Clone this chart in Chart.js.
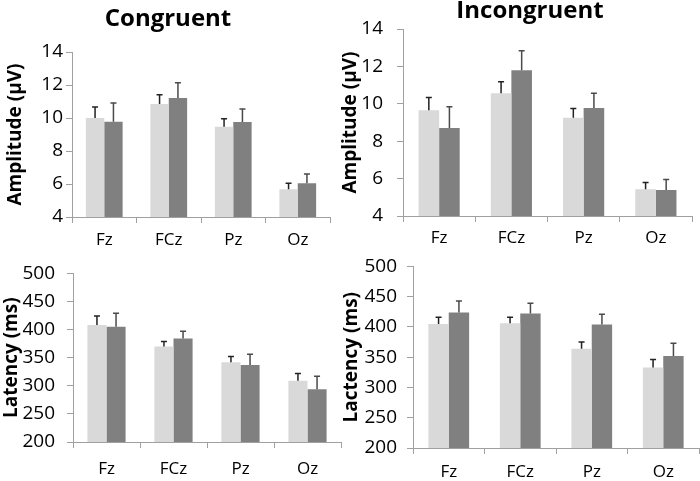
<!DOCTYPE html>
<html>
<head>
<meta charset="utf-8">
<script src="https://cdn.jsdelivr.net/npm/chart.js@4.4.1/dist/chart.umd.min.js"></script>
<style>
  body { margin: 0; background: #fff; }
  #wrap { position: relative; width: 700px; height: 481px; overflow: hidden; }
  canvas { position: absolute; }
  .title { position: absolute; font: bold 24px "Open Sans"; color: #000; transform: translateX(-50%); white-space: nowrap; }
</style>
</head>
<body>
<div id="wrap">
  <canvas id="c1" width="345" height="255" style="left:0;top:0"></canvas>
  <canvas id="c2" width="362" height="255" style="left:338px;top:0"></canvas>
  <canvas id="c3" width="345" height="231" style="left:0;top:250px"></canvas>
  <canvas id="c4" width="362" height="236" style="left:338px;top:245px"></canvas>
  <div class="title" style="left:168px;top:0px">Congruent</div>
  <div class="title" style="left:530px;top:-8px">Incongruent</div>
</div>
<script>
const categories = ["Fz", "FCz", "Pz", "Oz"];

// amplitude (µV), congruent
const congAmpLight = [10.0, 10.85, 9.47, 5.68];
const congAmpLightErr = [0.67, 0.56, 0.49, 0.36];
const congAmpDark = [9.78, 11.21, 9.76, 6.04];
const congAmpDarkErr = [1.13, 0.93, 0.79, 0.57];

// amplitude (µV), incongruent
const incAmpLight = [9.66, 10.57, 9.25, 5.43];
const incAmpLightErr = [0.68, 0.61, 0.5, 0.36];
const incAmpDark = [8.71, 11.79, 9.77, 5.39];
const incAmpDarkErr = [1.13, 1.05, 0.8, 0.56];

// latency (ms), congruent
const congLatLight = [408, 370, 342, 309];
const congLatLightErr = [16, 9, 10, 13];
const congLatDark = [405, 384, 337, 294];
const congLatDarkErr = [24, 13, 19, 23];

// latency (ms), incongruent
const incLatLight = [405, 406, 364, 333];
const incLatLightErr = [11, 10, 11, 13];
const incLatDark = [424, 422, 404, 352];
const incLatDarkErr = [19, 17, 17, 21];

const LIGHT = "#d9d9d9";
const DARK = "#808080";
const AXIS = "#a0a0a0";

// draws the upper half of each error bar
const errorBars = {
  id: "errorBars",
  afterDatasetsDraw(chart) {
    const ctx = chart.ctx;
    const y = chart.scales.y;
    chart.data.datasets.forEach((ds, i) => {
      const meta = chart.getDatasetMeta(i);
      ctx.save();
      ctx.strokeStyle = ds.errColor;
      ctx.lineWidth = 1.5;
      meta.data.forEach((bar, j) => {
        const top = y.getPixelForValue(ds.data[j] + ds.err[j]);
        ctx.beginPath();
        ctx.moveTo(bar.x, bar.y);
        ctx.lineTo(bar.x, top);
        ctx.moveTo(bar.x - 3, top);
        ctx.lineTo(bar.x + 3, top);
        ctx.stroke();
      });
      ctx.restore();
    });
  },
};

function panel(id, light, lightErr, dark, darkErr, yMin, yMax, step, yTitle, g) {
  new Chart(document.getElementById(id), {
    type: "bar",
    data: {
      labels: categories,
      datasets: [
        { data: light, err: lightErr, errColor: "#222", backgroundColor: LIGHT },
        { data: dark, err: darkErr, errColor: "#4a4a4a", backgroundColor: DARK },
      ],
    },
    options: {
      responsive: false,
      animation: false,
      categoryPercentage: 0.57,
      barPercentage: 1,
      layout: { padding: { top: g.top, right: g.right, left: 0, bottom: 0 } },
      plugins: {
        legend: { display: false },
        tooltip: { enabled: false },
      },
      scales: {
        x: {
          afterFit: (s) => { s.height = g.xh; },
          grid: { drawOnChartArea: false, color: AXIS, tickLength: 6 },
          border: { color: AXIS },
          ticks: { color: "#000", padding: g.xpad, font: { family: "Open Sans", size: 17 } },
        },
        y: {
          min: yMin,
          max: yMax,
          afterFit: (s) => { s.width = g.yw; },
          grid: { drawOnChartArea: false, color: AXIS, tickLength: 6 },
          border: { color: AXIS },
          ticks: { stepSize: step, color: "#000", padding: g.ypad, font: { family: "Open Sans", size: 19 } },
          title: {
            display: true,
            text: yTitle,
            color: "#000",
            padding: { top: g.tpad, bottom: 0 },
            font: { family: "Open Sans", size: 19, weight: "bold" },
          },
        },
      },
    },
    plugins: [errorBars],
  });
}

panel("c1", congAmpLight, congAmpLightErr, congAmpDark, congAmpDarkErr, 4, 14, 2, "Amplitude (μV)",
  { top: 52, right: 15, xh: 38, yw: 72, xpad: 7, ypad: 3, tpad: 4 });
panel("c2", incAmpLight, incAmpLightErr, incAmpDark, incAmpDarkErr, 4, 14, 2, "Amplitude (μV)",
  { top: 29, right: 8, xh: 39, yw: 65, xpad: 6, ypad: 14, tpad: 1 });
panel("c3", congLatLight, congLatLightErr, congLatDark, congLatDarkErr, 200, 500, 50, "Latency (ms)",
  { top: 19, right: 4, xh: 39, yw: 73, xpad: 11, ypad: 12, tpad: 0 });
panel("c4", incLatLight, incLatLightErr, incLatDark, incLatDarkErr, 200, 500, 50, "Lactency (ms)",
  { top: 11, right: 1, xh: 33, yw: 75, xpad: 8, ypad: 10, tpad: 2 });
</script>
</body>
</html>
